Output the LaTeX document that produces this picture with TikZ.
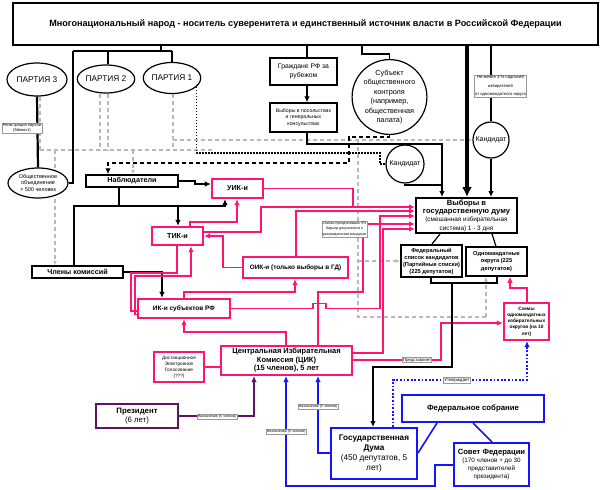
\documentclass[tikz,border=0pt]{standalone}
\usepackage{fontspec}
\setmainfont{Liberation Sans}
\usetikzlibrary{arrows.meta,shapes.geometric}
\pgfdeclarelayer{bg}
\pgfdeclarelayer{paper}
\pgfsetlayers{paper,bg,main}
\definecolor{pk}{RGB}{255,20,115}
\definecolor{bl}{RGB}{20,20,255}
\definecolor{pu}{RGB}{95,20,95}
\definecolor{gr}{RGB}{185,185,185}
\newcommand{\fz}[2]{\fontsize{#1}{#2}\selectfont}
\begin{document}
\begin{tikzpicture}[x=1pt,y=-1pt,
  bx/.style={draw,rectangle,fill=white,inner sep=0pt,align=center},
  pkb/.style={bx,draw=pk,line width=2.2pt},
  blb/.style={bx,draw=bl,line width=2pt},
  el/.style={draw,ellipse,fill=white,inner sep=0pt,align=center,line width=1.2pt},
  cir/.style={draw,circle,fill=white,inner sep=0pt,align=center,line width=1.2pt},
  lab/.style={draw=gray!80,fill=white,inner sep=0.7pt,line width=0.5pt,align=center},
  ln/.style={line width=1.2pt},
  thk/.style={line width=2.2pt},
  pl/.style={draw=pk,line width=1.8pt},
  bll/.style={draw=bl,line width=1.6pt},
  gdash/.style={draw=gr,line width=1.2pt,dash pattern=on 4pt off 3pt},
  dotblk/.style={line width=1.5pt,dash pattern=on 1.5pt off 1.5pt},
  dshblk/.style={line width=1.8pt,dash pattern=on 4pt off 3pt},
  tip/.style={-{Latex[length=6pt,width=5.5pt]}},
  tipg/.style={-{Latex[length=4.5pt,width=4pt]}},
]
\begin{pgfonlayer}{paper}
\fill[white] (0,0) rectangle (600,490);
\end{pgfonlayer}
\useasboundingbox (0,0) rectangle (600,490);

% ---------- nodes ----------
\node[bx,line width=2.5pt,minimum width=585pt,minimum height=42pt,font=\fz{9.1}{11}\bfseries] (title) at (305.5,24) {Многонациональный народ - носитель суверенитета и единственный источник власти в Российской Федерации};
\node[el,minimum width=60pt,minimum height=33pt,font=\fz{8.3}{10}] (p3) at (37,79.5) {ПАРТИЯ 3};
\node[el,minimum width=55pt,minimum height=28pt,font=\fz{8.3}{10}] (p2) at (106,79) {ПАРТИЯ 2};
\node[el,minimum width=57pt,minimum height=31pt,font=\fz{8.3}{10}] (p1) at (172,78) {ПАРТИЯ 1};
\node[el,minimum width=60pt,minimum height=30pt,font=\fz{5.5}{6.6}] (obsh) at (38,183) {Общественное\\объединение\\> 500 человек};
\node[bx,line width=1.5pt,minimum width=67pt,minimum height=27pt,font=\fz{6.8}{8.5}] (grazh) at (303.5,71.5) {Граждане РФ за\\рубежом};
\node[bx,line width=1.2pt,minimum width=67pt,minimum height=29pt,font=\fz{5.2}{6.6}] (posol) at (303.5,117.5) {Выборы в посольствах\\и генеральных\\консульствах};
\node[cir,minimum size=73pt,font=\fz{7.3}{9.5}] (subj) at (389.5,97) {Субъект\\общественного\\контроля\\(например,\\общественная\\палата)};
\node[cir,minimum size=36pt,font=\fz{7}{8}] (kandR) at (491,140) {Кандидат};
\node[cir,minimum size=38pt,font=\fz{7}{8}] (kandM) at (405,164) {Кандидат};
\node[bx,line width=1.5pt,minimum width=92pt,minimum height=12pt,font=\fz{7.2}{8}\bfseries] (nabl) at (132,181) {Наблюдатели};
\node[pkb,minimum width=51pt,minimum height=19pt,font=\fz{7.2}{8}\bfseries] (uik) at (237.5,188.5) {УИК-и};
\node[pkb,minimum width=51pt,minimum height=18pt,font=\fz{7.2}{8}\bfseries] (tik) at (177.5,236) {ТИК-и};
\node[bx,line width=1.5pt,minimum width=91pt,minimum height=12pt,font=\fz{7.2}{8}\bfseries] (chleny) at (77.5,272) {Члены комиссий};
\node[pkb,minimum width=92pt,minimum height=19pt,font=\fz{6.5}{8}\bfseries] (iksub) at (184,308.5) {ИК-и субъектов РФ};
\node[pkb,minimum width=105pt,minimum height=21pt,font=\fz{6.4}{8}\bfseries] (oik) at (295.5,267.5) {ОИК-и (только выборы в ГД)};
\node[pkb,minimum width=131pt,minimum height=29pt,font=\fz{7.5}{8.5}\bfseries] (cik) at (286.5,360.5) {Центральная Избирательная\\Комиссия (ЦИК)\\(15 членов), 5 лет};
\node[pkb,line width=2pt,minimum width=50pt,minimum height=30pt,font=\fz{4.7}{6}] (deg) at (179,367) {Дистанционное\\Электронное\\Голосование\\(???)};
\node[bx,draw=pu,line width=2pt,minimum width=82pt,minimum height=24pt,font=\fz{7.8}{9.5}] (pres) at (137,416) {\textbf{Президент}\\(6 лет)};
\node[bx,line width=2pt,minimum width=101pt,minimum height=35pt,font=\fz{6.4}{8.3}] (vgd) at (466.5,215.5) {{\fz{7.6}{8.3}\bfseries Выборы в}\\{\fz{7.6}{8.3}\bfseries государственную думу}\\(смешанная избирательная\\система) 1 - 3 дня};
\node[bx,line width=2pt,minimum width=61pt,minimum height=32pt,font=\fz{5.7}{7}\bfseries] (fed) at (431.5,261) {Федеральный\\список кандидатов\\(Партийные списки)\\(225 депутатов)};
\node[bx,line width=1.5pt,minimum width=61pt,minimum height=29pt,font=\fz{5.7}{7.5}\bfseries] (odn) at (496.5,261.5) {Одномандатные\\округа (225\\депутатов)};
\node[pkb,minimum width=45pt,minimum height=37pt,font=\fz{4.8}{6.2}\bfseries] (schem) at (526.5,321.5) {Схемы\\одномандатных\\избирательных\\округов (на 10\\лет)};
\node[blb,minimum width=86pt,minimum height=51pt,font=\fz{8.2}{10.2}] (gd) at (374,453.5) {\textbf{Государственная}\\\textbf{Дума}\\(450 депутатов, 5\\лет)};
\node[blb,minimum width=142pt,minimum height=27pt,font=\fz{7.8}{9}\bfseries] (fs) at (473,408.5) {Федеральное собрание};
\node[blb,minimum width=75pt,minimum height=43pt,font=\fz{6.3}{7.8}] (sf) at (491.5,464.5) {{\fz{7.6}{9}\bfseries Совет Федерации}\\(170 членов + до 30\\представителей\\президента)};

% ---------- connectors ----------
\begin{pgfonlayer}{bg}
% title bus to parties
\draw[thk] (title.south -| 161,0) -- (161,51);
\draw[thk] (73,51) -- (172,51);
\draw[thk] (73,51) |- (obsh.east);
\draw[ln] (108,51) -- (p2.north -| 108,0);
\draw[ln] (172,51) -- (p1.north);
\draw[thk] (p3.south) -- (obsh.north);
% grey dashed
\draw[gdash] ([xshift=3pt]p3.south) -- (40,150);
\draw[gdash] (p2.south -| 100,0) -- (100,150);
\draw[gdash] (p2.south -| 108,0) -- (108,150);
\draw[gdash] (p1.south -| 173,0) -- (173,150);
\draw[gdash] (40,150) -- (215,150);
\draw[gdash] (173,140) -- (kandR.west);
\draw[gdash,tipg] (133,150) -- (nabl.north -| 133,0);
\draw[gdash,tipg] (55,150) -- (chleny.north -| 55,0);
\draw[gdash] (358,140) -- (358,317) -- (486,317);
\draw[gdash,tipg] (486,317) -- (odn.south -| 486,0);
\draw[gdash,tipg] (358,261) -- (fed.west);
% dotted black
\draw[dotblk] (p1.-20) -- (p1.-20 |- 0,153) -- (380,153) |- (kandM.west);
% dashed black
\draw[dshblk,tip] (subj.south) |- (349,137) |- (108,163) -- (nabl.north -| 108,0);
% citizens abroad
\draw[ln] (title.south -| 307,0) -- (grazh.north -| 307,0);
\draw[ln,tip] (grazh.south -| 307,0) -- (posol.north -| 307,0);
\draw[thk,tip] (posol.south -| 307,0) |- (442,144) -- (vgd.north -| 442,0);
\draw[thk] (kandM.south) |- (442,185);
\draw[line width=4pt,-{Latex[length=10pt,width=10pt]}] (title.south -| 467,0) -- (vgd.north -| 467,0);
\draw[ln] (title.south -| kandR.north) -- (kandR.north);
\draw[ln,tip] (kandR.south) -- (vgd.north -| kandR.south);
\draw[ln] (title.south -| 362,0) |- (subj.north |- 0,54) -- (subj.north);
% observers
\draw[ln,tip] (nabl.east) -- (195,181) |- (uik.west |- 0,184);
\draw[line width=1.6pt] (nabl.south -| 119,0) -- (119,206);
\draw[line width=1.6pt,tip] (chleny.north -| 74,0) |- (225,206) -- (uik.south -| 225,0);
\draw[line width=1.6pt,tip] (178,206) -- (tik.north -| 178,0);
\draw[line width=1.6pt,tip] (chleny.east) -| (iksub.north -| 162,0);
% pink network
\draw[pl,tip] (uik.east) -| (353,207) -- (vgd.west |- 0,207);
\draw[pl] (tik.east |- 0,232) -| (261,207) -- (353,207);
\draw[pl,tip] (tik.north -| 190,0) |- (237,222) -- (uik.south -| 237,0);
\draw[pl,tip] (oik.west) -| (223,236) -- (tik.east |- 0,236);
\draw[pl,tip] (oik.north -| 296,0) |- (vgd.west |- 0,211);
\draw[pl,tip] (iksub.east) -- (313,308.5) -- (313,303.5) -- (326,303.5) -- (326,308.5) -| (380,216) -- (vgd.west |- 0,216);
\draw[pl] (cik.north -| 318,0) |- (363,292) -- (363,238);
\draw[pl,tip] (367,224) -- (vgd.west |- 0,224);
\draw[pl,tip] (cik.east |- 0,353) -| (383,229) -- (vgd.west |- 0,229);
\draw[pl,tip] (cik.east |- 0,360) -| (441,323) -- (schem.west |- 0,323);
\draw[pl,tip] (cik.north -| 286,0) |- (184,332) -- (iksub.south -| 184,0);
\draw[pl,tip] (iksub.north -| 184,0) |- (295,292) -- (oik.south -| 295,0);
\draw[pl] (tik.south -| 177,0) |- (131,273) |- (iksub.west |- 0,311);
\draw[pl,tip] (iksub.west |- 0,314.5) -| (135,276) -| (tik.south -| 191,0);
\draw[pl] (deg.east) -- (cik.west |- deg.east);
\draw[pl,tip] (schem.north -| 527,0) |- (510,288) -- (odn.south -| 510,0);
% black lower
\draw[ln] (vgd.south -| 440,0) -- (fed.north -| 432,0);
\draw[ln] (vgd.south -| 492,0) -- (odn.north -| 496,0);
\draw[thk] (fed.south -| 431,0) |- (497,283) -- (odn.south -| 497,0);
\draw[thk,tip] (452,283) |- (373,367) -- (gd.north -| 373,0);
% blue
\draw[bll] (fs.south -| 437,0) -- (gd.east |- 0,453);
\draw[bll] (fs.south -| 473,0) -- (sf.north -| 492,0);
\draw[bll,tip] (gd.west |- 0,453) -| (cik.south -| 318,0);
\draw[bll,tip] (sf.west |- 0,465) -| (435,486) -| (cik.south -| 286,0);
\draw[draw=bl,line width=1.8pt,dash pattern=on 1.8pt off 1.8pt,tip] (gd.north -| 393,0) |- (527,380) -- (schem.south -| 527,0);
% purple
\draw[draw=pu,line width=1.5pt,tip] (pres.east) -| (cik.south -| 254,0);
\end{pgfonlayer}

% ---------- labels on connectors ----------
\node[lab,font=\fz{4.1}{5}] (reglab) at (22,128) {Регистрация партии\\(Минюст)};
\node[lab,font=\fz{4.2}{8.2}] (lab3) at (500.5,86) {Не менее 3 \% подписей\\избирателей\\от одномандатного округа};
\node[lab,font=\fz{3.6}{5.6}] (spiski) at (344.5,229) {Списки преодолевших 5\%\\барьер допускаются к\\распределению мандатов};
\node[lab,font=\fz{3.6}{4.5}] (l1) at (217,417) {Назначение (5 членов)};
\node[lab,font=\fz{3.6}{4.5}] (l2) at (318,407) {Назначение (5 членов)};
\node[lab,font=\fz{3.6}{4.5}] (l3) at (286,432) {Назначение (5 членов)};
\node[lab,font=\fz{4.3}{5}] (l4) at (417,360) {Представляет};
\node[lab,font=\fz{4.6}{5.5}] (l5) at (457,380) {Утверждает};
\end{tikzpicture}
\end{document}
